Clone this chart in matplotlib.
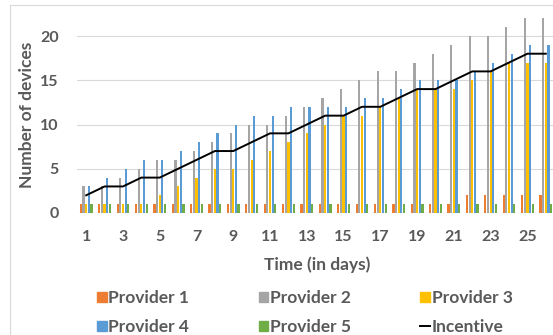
import matplotlib

matplotlib.use("Agg")
import matplotlib.pyplot as plt
import numpy as np
from matplotlib.lines import Line2D
from matplotlib.patches import Patch

# data
days = np.arange(1, 27)
provider1 = [1] * 21 + [2] * 5
provider2 = [3, 3, 4, 5, 6, 6, 7, 8, 9, 10, 10, 11, 12, 13, 14, 15, 16, 16, 17, 18, 19, 20, 20, 21, 22, 22]
provider3 = [1, 1, 1, 1, 2, 3, 4, 5, 5, 6, 7, 8, 9, 10, 11, 11, 12, 13, 14, 14, 14, 15, 16, 17, 17, 17]
provider4 = [3, 4, 5, 6, 6, 7, 8, 9, 10, 11, 11, 12, 12, 12, 12, 13, 13, 14, 15, 15, 15, 16, 17, 18, 19, 19]
provider5 = [1] * 26
incentive = [2, 3, 3, 4, 4, 5, 6, 7, 7, 8, 9, 9, 10, 11, 11, 12, 12, 13, 14, 14, 15, 16, 16, 17, 18, 18]
tick_days = list(range(1, 26, 2))

series = [("Provider 1", provider1, "#ED7D31"),
          ("Provider 2", provider2, "#A5A5A5"),
          ("Provider 3", provider3, "#FFC000"),
          ("Provider 4", provider4, "#5B9BD5"),
          ("Provider 5", provider5, "#70AD47")]

TXT = "#595959"
plt.rcParams["font.family"] = ["Lato", "DejaVu Sans"]
plt.rcParams["font.weight"] = "bold"

W, H = 553, 335
fig = plt.figure(figsize=(W / 100, H / 100), dpi=100)
# plot area: x 77..555 px, y 0 at 213 px, 25 at -8 px (top cropped like the source)
ax = fig.add_axes([77 / W, 1 - 213 / H, 478 / W, 221.25 / H])

slot, bw = 0.145, 0.12
for i, (name, vals, col) in enumerate(series):
    ax.bar(days + (i - 2) * slot, vals, width=bw, color=col, zorder=2, label=name)
ax.plot(days, incentive, color="black", lw=1.4, zorder=3)

ax.set_xlim(0.5, 26.5)
ax.set_ylim(0, 25)
ax.set_yticks([0, 5, 10, 15, 20])
ax.set_xticks(tick_days)
ax.grid(axis="y", color="#d9d9d9", lw=0.8, zorder=0)
ax.axhline(25, color="#d9d9d9", lw=0.8, zorder=0)
for s in ax.spines.values():
    s.set_visible(False)
ax.axhline(0, color="#d9d9d9", lw=0.8, zorder=1)
ax.tick_params(length=0, colors=TXT, labelsize=11.5)
ax.tick_params(axis="y", pad=13)
ax.tick_params(axis="x", pad=12)
for lab in ax.get_xticklabels() + ax.get_yticklabels():
    lab.set_fontweight("bold")

fig.text(27 / W, 1 - 115 / H, "Number of devices", rotation=90, ha="center", va="center",
         color=TXT, fontsize=12.5, fontweight="bold")
fig.text(317 / W, 1 - 265 / H, "Time (in days)", ha="center", va="center",
         color=TXT, fontsize=12.5, fontweight="bold")

# chart-area border (partially visible in the crop)
fig.add_artist(Line2D([10 / W, 10 / W], [0, 1 - 5 / H], color="#d9d9d9", lw=0.8))
fig.add_artist(Line2D([10 / W, 1], [1 - 5 / H, 1 - 5 / H], color="#d9d9d9", lw=0.8))

handles = [Patch(color=c) for _, _, c in series] + [Line2D([], [], color="black", lw=1.4)]
labels = [n for n, _, _ in series] + ["Incentive"]
order = [0, 3, 1, 4, 2, 5]
leg = fig.legend([handles[k] for k in order], [labels[k] for k in order], ncol=3,
                 loc="center left", bbox_to_anchor=(97 / W, 1 - 312.5 / H), frameon=False,
                 fontsize=12.5, handlelength=0.55, handleheight=0.55, handletextpad=0.1,
                 columnspacing=4.0, labelspacing=0.75, borderpad=0, borderaxespad=0)
for t in leg.get_texts():
    t.set_color(TXT)
    t.set_fontweight("bold")

fig.savefig("out.png", dpi=100)
